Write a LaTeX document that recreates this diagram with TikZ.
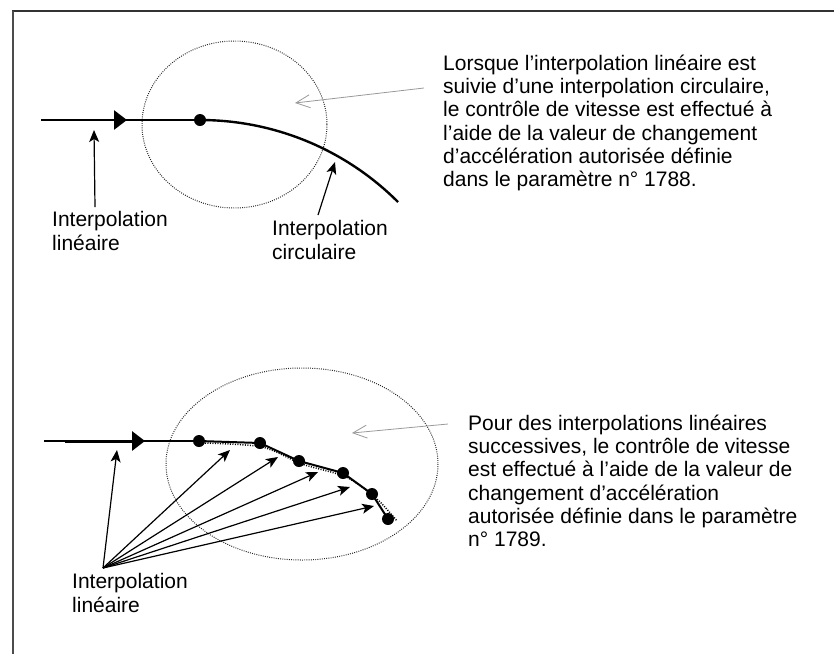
\documentclass[tikz,border=0pt]{standalone}
\usepackage{fontspec}
\setmainfont{Liberation Sans}
\usetikzlibrary{arrows.meta}
\begin{document}
\begin{tikzpicture}[x=1pt,y=-1pt,
  % multi-line labels are placed by the baseline of their last line
  lbl/.style={anchor=base west, inner sep=0pt, align=left,
    font=\fontsize{21}{23.3}\selectfont},
  vertex/.style={circle, fill=black, inner sep=0pt, minimum size=12pt},
  zone/.style={draw=black!85, line width=1pt, dash pattern=on 0.9pt off 1.3pt},
  pointer/.style={draw=black!40, line width=0.8pt,
    -{Straight Barb[length=14pt,width=13pt]}},
  callout/.style={line width=1.2pt, -{Stealth[length=12pt,width=10pt,inset=3pt]}},
  dirhead/.style={-{Triangle[length=13pt,width=19pt]}},
]
\useasboundingbox (0,0) rectangle (834,654);

% frame edges
\draw[black!80, line width=1.3pt] (12,11) -- (834,11);
\draw[black!70, line width=2pt] (13,11) -- (13,654);

% ---------- linear followed by circular interpolation ----------
\draw[zone] (234.5,124.5) ellipse [x radius=92.5, y radius=83.5];

\coordinate (a0) at (41,120);
\coordinate (a1) at (46,120);
\coordinate (aT) at (127,120);
\node[vertex] (a2) at (200,120) {};
\coordinate (a3) at (398,202);
\draw[line width=1.8pt] (a0) -- (a2.center);
\draw[line width=2.8pt, dirhead] (a1) -- (aT);
\draw[line width=2.4pt] (a2.center) .. controls (274.3,120) and (345.5,149.5) .. (a3);

\node[lbl] (txtA) at (443,186.7) {Lorsque l’interpolation linéaire est\\
suivie d’une interpolation circulaire,\\
le contrôle de vitesse est effectué à\\
l’aide de la valeur de changement\\
d’accélération autorisée définie\\
dans le paramètre n° 1788.};
\coordinate (pA0) at (424,88);
\coordinate (pA1) at (295,103);
\draw[pointer] (pA0) -- (pA1);

\node[lbl] (linA) at (52,250) {Interpolation\\linéaire};
\coordinate (cA0) at (95,207);
\coordinate (cA1) at (94,130);
\draw[callout] (cA0) -- (cA1);

\node[lbl] (circA) at (272,259) {Interpolation\\circulaire};
\coordinate (cC0) at (318,215);
\coordinate (cC1) at (335,162);
\draw[callout] (cC0) -- (cC1);

% ---------- successive linear interpolations ----------
\draw[zone] (302,464) ellipse [x radius=136, y radius=96];

\coordinate (b0) at (44,441);
\coordinate (b1) at (65,441);
\coordinate (bT) at (145,441);
\node[vertex] (v1) at (199,441) {};
\node[vertex] (v2) at (260,443) {};
\node[vertex] (v3) at (299,461) {};
\node[vertex] (v4) at (343,473) {};
\node[vertex] (v5) at (372,494) {};
\node[vertex] (v6) at (388,519) {};
\draw[line width=1.6pt] (b0) -- (v1.center);
\draw[line width=3pt, dirhead] (b1) -- (bT);
\draw[line width=2pt] (v1.center) -- (v2.center) -- (v3.center) -- (v4.center)
  -- (v5.center) -- (v6.center);
\draw[line width=1.5pt, dash pattern=on 1pt off 1.5pt]
  plot[smooth] coordinates {(205,443) (262,447) (302,464) (346,477) (376,498) (397,521)};

\node[lbl] (txtB) at (468,546.7) {Pour des interpolations linéaires\\
successives, le contrôle de vitesse\\
est effectué à l’aide de la valeur de\\
changement d’accélération\\
autorisée définie dans le paramètre\\
n° 1789.};
\coordinate (pB0) at (448,424);
\coordinate (pB1) at (352,433);
\draw[pointer] (pB0) -- (pB1);

\node[lbl] (linB) at (72,612) {Interpolation\\linéaire};
\coordinate (hub) at (103,568);
\coordinate (t1) at (117,450);
\coordinate (t2) at (230,450);
\coordinate (t3) at (278,457);
\coordinate (t4) at (318,472);
\coordinate (t5) at (350,487);
\coordinate (t6) at (374,506);
\foreach \t in {t1,t2,t3,t4,t5,t6}
  \draw[callout] (hub) -- (\t);
\end{tikzpicture}
\end{document}
